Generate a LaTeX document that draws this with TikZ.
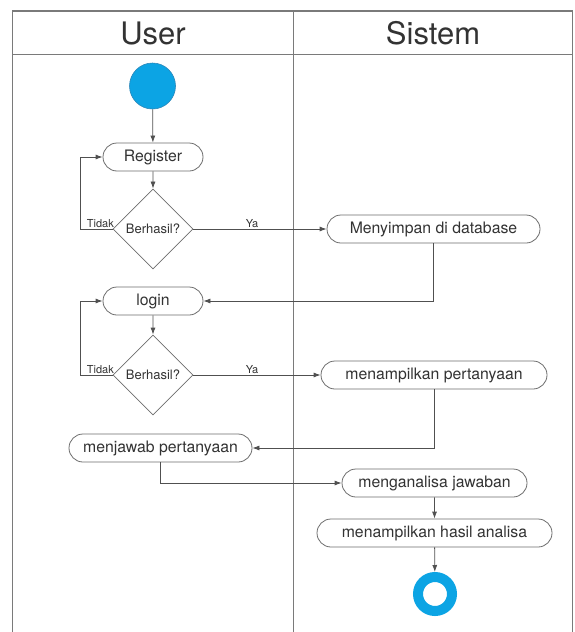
\documentclass[tikz,border=0pt]{standalone}
\usepackage{fontspec}
\setmainfont{TeX Gyre Heros}
\usetikzlibrary{shapes.misc,shapes.geometric,arrows.meta}
\definecolor{lane}{HTML}{7A7A7A}
\definecolor{conn}{HTML}{505050}
\definecolor{boxline}{HTML}{6E6E6E}
\definecolor{startblue}{HTML}{0CA4E4}
\definecolor{startedge}{HTML}{2B86B8}
\definecolor{txt}{HTML}{333333}
\begin{document}
\begin{tikzpicture}[x=1pt,y=-1pt,
  act/.style={rounded rectangle, draw=boxline, line width=0.8pt, minimum height=28pt,
    inner sep=0pt, font=\fontsize{15.8}{18}\selectfont, text=txt, fill=white},
  dec/.style={diamond, draw=boxline, line width=0.8pt, minimum width=80pt, minimum height=80pt,
    inner sep=0pt, font=\fontsize{13}{15}\selectfont, text=txt, fill=white},
  flow/.style={draw=conn, line width=0.8pt, -{Latex[length=7pt,width=5pt]}},
  lbl/.style={font=\fontsize{11}{12}\selectfont, text=txt, inner sep=0pt},
  head/.style={font=\fontsize{31}{34}\selectfont, text=txt}]
\useasboundingbox (0,0) rectangle (574,632);
\fill[white] (0,0) rectangle (574,632);
% swimlane frame
\draw[lane, line width=1.3pt] (12.7,632) -- (12.7,11) -- (572.5,11) -- (572.5,632);
\draw[lane, line width=1pt] (12.7,54) -- (572.5,54);
\draw[lane, line width=1pt] (293,11) -- (293,632);
\node[head] (hu) at (153,33) {User};
\node[head] (hs) at (433,33) {Sistem};
% nodes
\node[circle, fill=startblue, draw=startedge, line width=0.6pt, minimum size=46pt, inner sep=0pt] (start) at (152.5,86) {};
\node[act, minimum width=100pt] (reg) at (153,157) {Register};
\node[dec] (d1) at (153,229) {Berhasil?};
\node[act, minimum width=213pt] (simpan) at (433.5,229) {Menyimpan di database};
\node[act, minimum width=100pt] (login) at (153,301) {login};
\node[dec] (d2) at (153,375) {Berhasil?};
\node[act, minimum width=226pt] (tampil) at (434,375) {menampilkan pertanyaan};
\node[act, minimum width=183pt] (jawab) at (160.5,448) {menjawab pertanyaan};
\node[act, minimum width=185pt] (analisa) at (434.5,483) {menganalisa jawaban};
\node[act, minimum width=235pt] (hasil) at (434.5,533) {menampilkan hasil analisa};
\node[circle, draw=startblue, line width=10pt, fill=white, minimum size=34pt, inner sep=0pt] (stop) at (435,594) {};
% labels
\node[lbl, anchor=base east] (t1) at (114,227) {Tidak};
\node[lbl, anchor=base] (y1) at (252,227) {Ya};
\node[lbl, anchor=base east] (t2) at (114,373) {Tidak};
\node[lbl, anchor=base] (y2) at (252,373) {Ya};
% connectors
\draw[flow] (start) -- (reg);
\draw[flow] (reg) -- (d1);
\draw[flow] (d1.west) -- ++(-32,0) |- (reg.west);
\draw[flow] (d1.east) -- (simpan.west);
\draw[flow] (simpan.south) |- (login.east);
\draw[flow] (login) -- (d2);
\draw[flow] (d2.west) -- ++(-32,0) |- (login.west);
\draw[flow] (d2.east) -- (tampil.west);
\draw[flow] (tampil.south) |- (jawab.east);
\draw[flow] (jawab.south) |- (analisa.west);
\draw[flow] (analisa) -- (hasil);
\draw[flow] (hasil) -- (stop);
\end{tikzpicture}
\end{document}
